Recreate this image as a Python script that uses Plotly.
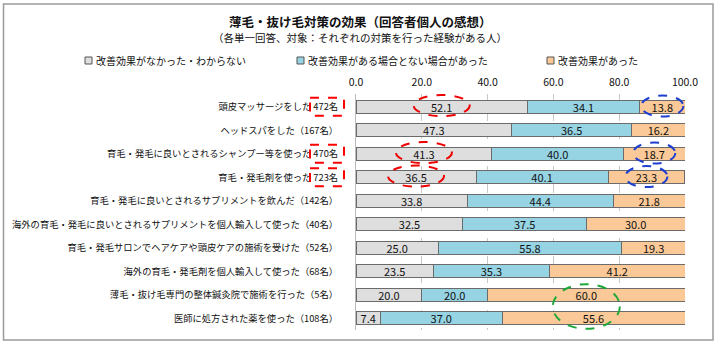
import plotly.graph_objects as go

categories = [
    "頭皮マッサージをした 472名",
    "ヘッドスパをした（167名）",
    "育毛・発毛に良いとされるシャンプー等を使った 470名",
    "育毛・発毛剤を使った 723名",
    "育毛・発毛に良いとされるサプリメントを飲んだ（142名）",
    "海外の育毛・発毛に良いとされるサプリメントを個人輸入して使った（40名）",
    "育毛・発毛サロンでヘアケアや頭皮ケアの施術を受けた（52名）",
    "海外の育毛・発毛剤を個人輸入して使った（68名）",
    "薄毛・抜け毛専門の整体鍼灸院で施術を行った（5名）",
    "医師に処方された薬を使った（108名）",
]
series_names = ["改善効果がなかった・わからない", "改善効果がある場合とない場合があった", "改善効果があった"]
no_effect = [52.1, 47.3, 41.3, 36.5, 33.8, 32.5, 25.0, 23.5, 20.0, 7.4]
mixed = [34.1, 36.5, 40.0, 40.1, 44.4, 37.5, 55.8, 35.3, 20.0, 37.0]
effect = [13.8, 16.2, 18.7, 23.3, 21.8, 30.0, 19.3, 41.2, 60.0, 55.6]
x_ticks = [0, 20, 40, 60, 80, 100]

colors = ["#dedede", "#96d3e3", "#fbc997"]
FONT = "Noto Sans CJK JP"

W, H = 720, 344
ML, MR, MT, MB = 356, 35, 94, 14
PW, PH = W - ML - MR, H - MT - MB

def px(x):
    return (x - ML) / PW

def py(y):
    return 1 - (y - MT) / PH

fig = go.Figure()
for name, vals, col in zip(series_names, [no_effect, mixed, effect], colors):
    fig.add_trace(go.Bar(
        y=categories, x=vals, name=name, orientation="h",
        marker=dict(color=col, line=dict(color="#6b6b6b", width=1)),
        text=[f"{v:.1f}" for v in vals], textposition="inside",
        insidetextanchor="middle", textangle=0, constraintext="none",
        textfont=dict(family=FONT, size=11, color="#111"),
        showlegend=False,
    ))

shapes = []
annotations = []
# outer border
shapes.append(dict(type="rect", xref="paper", yref="paper", x0=px(3.5), x1=px(713), y0=py(340), y1=py(4),
                   line=dict(color="#9a9a9a", width=1.5), layer="below"))
# title
annotations.append(dict(text="<b>薄毛・抜け毛対策の効果（回答者個人の感想）</b>", xref="paper", yref="paper",
                        x=px(360), y=py(22), showarrow=False, xanchor="center", yanchor="middle",
                        font=dict(family=FONT, size=12.5, color="#111")))
annotations.append(dict(text="（各単一回答、対象：それぞれの対策を行った経験がある人）", xref="paper", yref="paper",
                        x=px(360), y=py(38), showarrow=False, xanchor="center", yanchor="middle",
                        font=dict(family=FONT, size=10.5, color="#111")))
# legend
leg_x = [85, 297, 547]
for lx, name, col in zip(leg_x, series_names, colors):
    shapes.append(dict(type="rect", xref="paper", yref="paper", x0=px(lx), x1=px(lx + 7), y0=py(64), y1=py(57),
                       fillcolor=col, line=dict(color="#555", width=1)))
    annotations.append(dict(text=name, xref="paper", yref="paper", x=px(lx + 9), y=py(60.5), showarrow=False,
                            xanchor="left", yanchor="middle", font=dict(family=FONT, size=10, color="#111")))

# red dashed boxes around counts
for idx in [0, 2, 3]:
    shapes.append(dict(type="rect", xref="paper", yref="y", x0=px(310), x1=px(344), y0=idx - 0.38, y1=idx + 0.38,
                       line=dict(color="#ff0000", width=2, dash="dash")))

# dashed ellipses
def ell(row, xc, hw, hh, col):
    return dict(type="circle", xref="x", yref="y", x0=xc - hw, x1=xc + hw, y0=row - hh, y1=row + hh,
                line=dict(color=col, width=2, dash="dash"))

for row in [0, 2, 3]:
    shapes.append(ell(row - 0.05, no_effect[row] / 2, 8.5, 0.45, "#ee0000"))
    shapes.append(ell(row - 0.03, no_effect[row] + mixed[row] + effect[row] / 2, 6.4, 0.45, "#1f3fd0"))
shapes.append(ell(8.5, no_effect[8] + mixed[8] + effect[8] / 2, 10.2, 0.95, "#1ea83a"))

fig.update_layout(
    width=W, height=H, barmode="stack", bargap=0.45,
    margin=dict(l=ML, r=MR, t=MT, b=MB, autoexpand=False),
    paper_bgcolor="white", plot_bgcolor="white",
    font=dict(family=FONT, size=9.3, color="#111"),
    shapes=shapes, annotations=annotations,
    uniformtext=dict(minsize=11, mode="show"),
    xaxis=dict(side="top", range=[0, 100], tickvals=x_ticks, tickformat=".1f",
               showgrid=True, gridcolor="#c8c8c8", griddash="dash", gridwidth=1,
               zeroline=False, showline=False, ticks="", ticklabelstandoff=5,
               tickfont=dict(size=10.5, family=FONT)),
    yaxis=dict(autorange="reversed", showline=True, linecolor="#bbbbbb", ticks="",
               ticklabelstandoff=15, tickfont=dict(size=9.3, family=FONT)),
)

fig.write_html("out.html")
